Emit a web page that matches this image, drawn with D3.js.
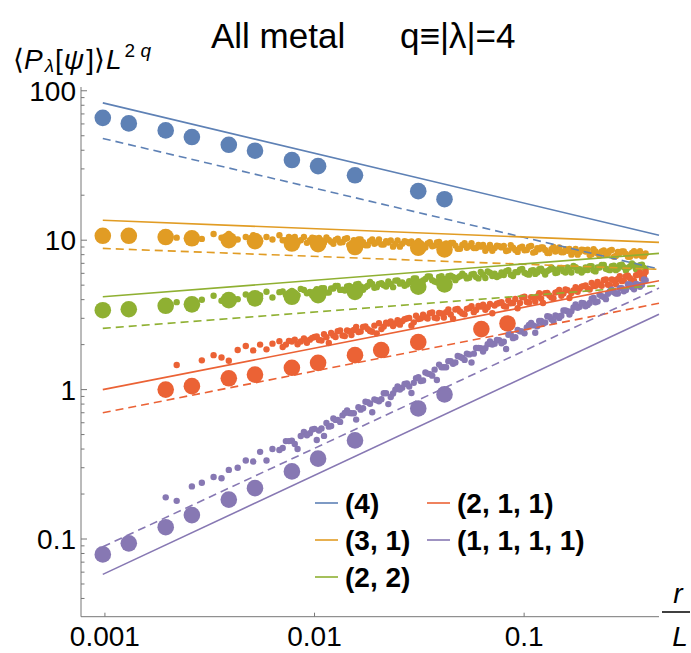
<!DOCTYPE html>
<html>
<head>
<meta charset="utf-8">
<script src="https://cdn.jsdelivr.net/npm/d3@7"></script>
<style>
  body { margin: 0; background: #fff; }
  svg { display: block; font-family: "Liberation Sans", Arial, sans-serif; }
</style>
</head>
<body>
<svg id="chart" width="691" height="653"></svg>
<script>
// Series (partitions λ of q = 4)
const seriesNames  = ["(4)", "(3, 1)", "(2, 2)", "(2, 1, 1)", "(1, 1, 1, 1)"];
const seriesColors = ["#5E81B5", "#E19C24", "#8FB032", "#EB6235", "#8778B3"];

// Large markers: r/L positions and values
const bigX    = [0.000977, 0.0013, 0.00195, 0.0026, 0.0039, 0.0052, 0.0078, 0.0104, 0.0156, 0.03125, 0.0417];
const bigXRed = [0.00195, 0.0026, 0.0039, 0.0052, 0.0078, 0.0104, 0.0156, 0.0208, 0.03125, 0.0625, 0.0833];
const bigBlue   = [65.9, 60.5, 54.3, 49.0, 43.5, 39.7, 34.4, 31.3, 27.2, 21.3, 18.8];
const bigOrange = [10.7, 10.7, 10.5, 10.3, 10.0, 9.85, 9.5, 9.4, 9.0, 8.9, 8.67];
const bigGreen  = [3.40, 3.45, 3.64, 3.72, 3.97, 4.08, 4.18, 4.29, 4.50, 4.88, 5.06];
const bigRed    = [1.0, 1.055, 1.19, 1.26, 1.40, 1.51, 1.70, 1.84, 2.08, 2.54, 2.77];
const bigPurple = [0.0789, 0.0935, 0.120, 0.1445, 0.1835, 0.219, 0.2835, 0.345, 0.457, 0.748, 0.929];

// Small markers, first sampling: r/L positions and values (null = no point)
const smallX = [
  0.00195,0.0022,0.0026,0.0029,0.0033,0.0036,0.0039,0.0043,0.0047,0.0051,
  0.0055,0.0059,0.0063,0.0068,0.0073,0.0078,0.0083,0.0089,0.0095,0.0100,
  0.0105,0.0111,0.0117,0.0123,0.0129,0.0136,0.0143,0.0150,0.0158,0.0166,
  0.0175,0.0184,0.0193,0.0203,0.0214,0.0225,0.0237,0.0249,0.0262,0.0276,
  0.0290,0.0305,0.0321,0.0338,0.0355,0.0374,0.0393,0.0414,0.0435,0.0458,
  0.0482,0.0507,0.0533,0.0561,0.0590,0.0621,0.0653,0.0687,0.0723,0.0760,
  0.0800,0.0841,0.0885,0.0931,0.0979,0.103,0.108,0.113,0.118,0.123,
  0.129,0.135,0.141,0.147,0.154,0.161,0.168,0.176,0.184,0.192,
  0.201,0.210,0.219,0.229,0.240,0.251,0.262,0.274,0.286,0.299,
  0.313,0.327,0.342,0.357,0.373];
const smallOrange = [
  11.1,10.4,10.8,10.2,11.0,10.4,11.0,10.1,10.5,10.8,
  9.9,10.5,10.1,10.8,10.0,10.2,9.6,10.5,10.0,10.3,
  10.35,9.65,10.05,9.45,10.25,9.7,10.3,9.4,9.8,10.1,
  9.25,9.85,9.45,10.1,9.35,9.65,9.05,9.95,9.45,9.75,
  9.8,9.1,9.5,8.95,9.7,9.2,9.75,8.95,9.3,9.6,
  8.75,9.3,8.9,9.55,8.85,9.05,8.5,9.3,8.85,9.1,
  9.15,8.55,8.9,8.35,9.05,8.6,9.15,8.35,8.7,8.95,
  8.2,8.7,8.4,8.95,8.3,8.5,8.0,8.75,8.35,8.6,
  8.65,8.05,8.4,7.9,8.55,8.1,8.6,7.85,8.2,8.4,
  7.75,8.2,7.9,8.45,7.8];
const smallGreen = [
  3.63,3.85,3.75,3.99,4.25,3.93,4.13,4.03,4.33,4.2,
  4.26,4.52,4.13,4.49,4.31,4.58,4.28,4.64,4.5,4.46,
  4.51,4.78,4.47,4.75,4.94,4.66,4.9,4.61,5.05,4.9,
  4.85,5.25,4.8,5.1,5.0,5.3,4.85,5.38,5.22,5.06,
  5.22,5.54,5.06,5.5,5.72,5.29,5.68,5.35,5.74,5.68,
  5.62,5.96,5.55,5.9,5.66,6.12,5.59,6.06,5.97,5.79,
  5.85,6.29,5.75,6.11,6.43,5.94,6.24,5.95,6.39,6.2,
  6.21,6.58,6.02,6.46,6.2,6.58,6.08,6.59,6.4,6.26,
  6.32,6.71,6.18,6.57,6.83,6.36,6.69,6.3,6.8,6.6,
  6.53,6.99,6.39,6.79,6.53];
const smallRed = [
  null,1.46,null,1.57,1.70,1.64,1.56,1.84,1.96,1.83,
  2.0,1.86,2.03,2.11,2.0,2.1,2.01,2.2,2.16,2.25,
  2.15,2.35,2.05,2.3,2.46,2.3,2.49,2.32,2.63,2.45,
  2.65,2.47,2.68,2.78,2.64,2.77,2.66,2.91,2.87,2.99,
  2.68,3.12,2.99,3.05,3.24,3.03,3.26,3.04,3.44,2.98,
  3.46,3.23,3.47,3.61,3.41,3.59,3.42,3.74,3.65,3.8,
  3.63,3.97,3.8,3.5,4.14,3.86,4.16,3.88,4.41,3.8,
  4.43,4.13,4.46,4.64,4.4,4.63,4.43,4.85,4.74,4.93,
  4.73,5.18,4.96,5.06,5.41,5.04,5.45,5.07,5.75,5.37,
  5.79,5.4,5.82,6.05,5.72];
const smallPurple = [
  0.19,0.18,0.225,0.238,0.26,0.255,0.29,0.30,0.335,0.33,
  0.383,0.335,0.40,0.394,0.452,0.455,0.40,0.52,0.51,0.546,
  0.533,0.49,0.565,0.64,0.627,0.672,0.725,0.694,0.63,0.734,
  0.83,0.804,0.86,0.836,0.946,0.80,0.941,1.05,1.03,1.1,
  0.95,1.19,1.14,1.3,1.27,1.36,1.47,1.41,1.55,1.49,
  1.68,1.63,1.74,1.52,1.9,1.89,1.89,2.1,2.03,2.14,
  2.09,2.33,2.21,2.51,2.45,2.61,2.79,2.4,2.88,2.76,
  3.1,2.96,3.13,3.02,3.39,3.35,3.34,3.71,3.58,3.79,
  3.69,4.06,3.84,4.31,4.16,4.38,4.66,4.4,4.78,4.55,
  5.08,4.84,5.09,4.88,5.47];

// Small markers, second (interleaved) sampling
const smallX2 = [
  0.00705,0.00755,0.00805,0.0086,0.0092,0.00975,0.01025,0.0108,0.0114,0.012,
  0.0126,0.01325,0.01395,0.01465,0.0154,0.0162,0.01705,0.01795,0.01885,0.0198,
  0.02085,0.02195,0.0231,0.0243,0.02555,0.0269,0.0283,0.02975,0.0313,0.03295,
  0.03465,0.03645,0.03835,0.04035,0.04245,0.04465,0.047,0.04945,0.052,0.0547,
  0.05755,0.06055,0.0637,0.067,0.0705,0.07415,0.078,0.08205,0.0863,0.0908,
  0.0955,0.10045,0.1055,0.1105,0.1155,0.1205,0.126,0.132,0.138,0.144,
  0.1505,0.1575,0.1645,0.172,0.18,0.188,0.1965,0.2055,0.2145,0.224,
  0.2345,0.2455,0.2565,0.268,0.28,0.2925,0.306,0.32,0.3345,0.3495,
  0.365,0.38];
const smallOrange2 = [
  10.0,10.5,10.5,10.0,9.6,10.4,10.1,9.55,10.45,9.75,
  10.05,9.65,10.2,9.3,10.0,10.1,9.7,9.25,10.1,9.65,
  9.35,9.85,9.95,9.45,9.05,9.85,9.55,9.0,9.85,9.2,
  9.5,9.1,9.65,8.85,9.5,9.6,9.2,8.75,9.55,9.1,
  8.85,9.3,9.3,8.85,8.5,9.2,8.95,8.45,9.25,8.6,
  8.9,8.55,9.05,8.25,8.85,8.95,8.6,8.2,9.0,8.55,
  8.3,8.7,8.75,8.35,8.0,8.65,8.4,7.95,8.7,8.15,
  8.4,8.05,8.5,7.75,8.35,8.4,8.1,7.75,8.45,8.05,
  7.8,8.15];
const smallGreen2 = [
  4.53,4.22,4.4,4.72,4.41,4.28,4.69,4.78,4.46,4.75,
  4.94,4.65,4.61,4.94,4.7,5.1,4.66,4.95,5.1,4.85,
  5.15,4.9,5.1,5.36,5.12,4.96,5.32,5.54,5.17,5.38,
  5.72,5.4,5.23,5.74,5.46,5.79,5.4,5.74,5.79,5.61,
  5.95,5.55,5.88,6.17,5.76,5.67,6.09,6.21,5.87,6.11,
  6.35,6.06,5.88,6.3,6.08,6.45,5.89,6.33,6.4,6.08,
  6.52,6.08,6.33,6.72,6.27,6.08,6.58,6.71,6.26,6.57,
  6.83,6.44,6.3,6.76,6.43,6.86,6.27,6.67,6.79,6.46,
  6.86,6.43];
const smallRed2 = [
  1.93,2.12,2.16,2.1,2.06,2.22,2.27,2.13,2.24,2.39,
  2.25,2.49,2.28,2.46,2.51,2.43,2.63,2.54,2.44,2.38,
  2.54,2.8,2.86,2.77,2.72,2.96,3.02,2.82,2.97,3.17,
  2.99,3.28,3.0,3.23,3.3,3.18,3.44,3.33,3.19,3.51,
  3.3,3.63,3.7,3.56,3.24,3.76,3.84,3.59,3.78,4.04,
  3.8,4.18,3.82,4.12,4.2,4.07,4.41,4.26,4.09,4.51,
  4.24,4.68,4.1,4.61,4.52,4.89,4.98,4.68,4.93,5.26,
  4.96,5.46,4.99,5.39,5.5,5.32,5.75,5.56,5.34,5.88,
  5.53,6.13];
const smallPurple2 = [
  0.407,0.452,0.432,0.489,0.495,0.541,0.46,0.549,0.598,0.571,
  0.627,0.608,0.698,0.697,0.694,0.762,0.75,0.822,0.705,0.85,
  0.862,0.946,0.893,1.0,1.0,1.09,1.05,1.11,1.21,1.15,
  1.28,1.24,1.16,1.41,1.41,1.55,1.52,1.66,1.58,1.72,
  1.74,1.9,1.8,2.01,2.0,2.15,2.04,1.87,2.35,2.24,
  2.46,2.38,2.71,2.69,2.65,2.88,2.81,3.07,2.87,3.1,
  3.12,3.39,3.18,3.54,3.53,3.8,3.61,3.8,4.1,3.88,
  4.22,4.03,4.56,4.48,4.4,4.78,4.65,5.03,4.69,5.04,
  5.04,5.4];

// Power-law guide lines: values at the two ends of lineX
const lineX = [0.000977, 0.44];
const solidEnds  = [[83, 10.8], [13.6, 9.67], [4.18, 8.16], [1.0, 5.35], [0.058, 3.19]];
const dashedEnds = [[48, 6.4], [8.81, 6.38], [2.57, 4.98], [0.70, 3.78], [0.0887, 4.78]];

// Axis ticks
const xTicks = [0.001, 0.01, 0.1];
const xTickLabels = ["0.001", "0.01", "0.1"];
const yTicks = [0.1, 1, 10, 100];
const yTickLabels = ["0.1", "1", "10", "100"];

const svg = d3.select("#chart");
const x = d3.scaleLog().domain([0.000769, 0.44]).range([81, 659]);
const y = d3.scaleLog().domain([0.0302, 106]).range([616.7, 87]);

const bigSets = [
  {xs: bigX, ys: bigBlue}, {xs: bigX, ys: bigOrange}, {xs: bigX, ys: bigGreen},
  {xs: bigXRed, ys: bigRed}, {xs: bigX, ys: bigPurple}];
const smallSets  = [null, smallOrange, smallGreen, smallRed, smallPurple];
const smallSets2 = [null, smallOrange2, smallGreen2, smallRed2, smallPurple2];

// Points
const pts = svg.append("g");
seriesNames.forEach((name, i) => {
  const g = pts.append("g").attr("fill", seriesColors[i]);
  if (smallSets[i]) {
    const data = smallX.map((v, k) => [v, smallSets[i][k]])
      .concat(smallX2.map((v, k) => [v, smallSets2[i][k]]))
      .filter(d => d[1] != null);
    g.selectAll("circle.s").data(data).join("circle").attr("class", "s")
      .attr("cx", d => x(d[0])).attr("cy", d => y(d[1])).attr("r", 3.2);
  }
  const bd = bigSets[i].xs.map((v, k) => [v, bigSets[i].ys[k]]);
  g.selectAll("circle.b").data(bd).join("circle").attr("class", "b")
    .attr("cx", d => x(d[0])).attr("cy", d => y(d[1])).attr("r", 8.3);
});

// Guide lines
const line = d3.line().x(d => x(d[0])).y(d => y(d[1]));
const lines = svg.append("g").attr("fill", "none").attr("stroke-width", 1.6);
seriesNames.forEach((name, i) => {
  lines.append("path").attr("stroke", seriesColors[i])
    .attr("d", line(lineX.map((v, k) => [v, solidEnds[i][k]])));
  lines.append("path").attr("stroke", seriesColors[i]).attr("stroke-dasharray", "8,5")
    .attr("d", line(lineX.map((v, k) => [v, dashedEnds[i][k]])));
});

// Axes
const axisColor = "#777";
const xAxisY = y.range()[0];
const ax = svg.append("g").attr("stroke", axisColor).attr("stroke-width", 1);
ax.append("line").attr("x1", x.range()[0]).attr("x2", x.range()[1]).attr("y1", xAxisY).attr("y2", xAxisY);
ax.append("line").attr("x1", x.range()[0]).attr("x2", x.range()[0]).attr("y1", y.range()[1]).attr("y2", xAxisY);
xTicks.forEach(t => {
  ax.append("line").attr("x1", x(t)).attr("x2", x(t)).attr("y1", xAxisY).attr("y2", xAxisY - 4);
});
const yMinor = [];
[0.01, 0.1, 1, 10].forEach(dec => { for (let m = 2; m <= 9; m++) yMinor.push(dec * m); });
yMinor.filter(v => v >= y.domain()[0] && v <= y.domain()[1]).forEach(v => {
  ax.append("line").attr("x1", x.range()[0]).attr("x2", x.range()[0] + 3.5).attr("y1", y(v)).attr("y2", y(v));
});
yTicks.forEach(t => {
  ax.append("line").attr("x1", x.range()[0]).attr("x2", x.range()[0] + 6).attr("y1", y(t)).attr("y2", y(t));
});

const lab = svg.append("g").attr("font-size", 28).attr("fill", "#000");
xTicks.forEach((t, k) => {
  lab.append("text").attr("x", x(t)).attr("y", 646).attr("text-anchor", "middle").text(xTickLabels[k]);
});
yTicks.forEach((t, k) => {
  lab.append("text").attr("x", 76).attr("y", y(t) + 10).attr("text-anchor", "end").text(yTickLabels[k]);
});

// Title
svg.append("text").attr("x", 211).attr("y", 48).attr("font-size", 35).text("All metal");
svg.append("text").attr("x", 400).attr("y", 48).attr("font-size", 35).text("q≡|λ|=4");

// Y axis label
const yl = svg.append("text").attr("x", 13).attr("y", 69).attr("font-size", 28);
yl.append("tspan").text("⟨");
yl.append("tspan").attr("font-style", "italic").text("P");
yl.append("tspan").attr("font-style", "italic").attr("font-size", 19).attr("dx", 2).attr("dy", 3).text("λ");
yl.append("tspan").attr("dx", 1).attr("dy", -3).text("[");
yl.append("tspan").attr("font-style", "italic").attr("dx", 1).text("ψ");
yl.append("tspan").attr("dx", 2).text("]⟩");
yl.append("tspan").attr("font-style", "italic").attr("dx", 1).text("L");
yl.append("tspan").attr("font-size", 19).attr("dx", 3).attr("dy", -12).text("2 ");
yl.append("tspan").attr("font-size", 19).attr("font-style", "italic").text("q");

// X axis label r/L
svg.append("text").attr("x", 678).attr("y", 603).attr("font-size", 28).attr("font-style", "italic")
  .attr("text-anchor", "middle").text("r");
svg.append("line").attr("x1", 662).attr("x2", 690).attr("y1", 612).attr("y2", 612)
  .attr("stroke", "#000").attr("stroke-width", 1.5);
svg.append("text").attr("x", 680).attr("y", 646).attr("font-size", 28).attr("font-style", "italic")
  .attr("text-anchor", "middle").text("L");

// Legend
const legendPos = [[315, 503], [315, 540], [315, 577], [427, 503], [427, 540]];
const leg = svg.append("g");
seriesNames.forEach((name, i) => {
  const [lx, ly] = legendPos[i];
  leg.append("line").attr("x1", lx).attr("x2", lx + 23).attr("y1", ly).attr("y2", ly)
    .attr("stroke", seriesColors[i]).attr("stroke-width", 1.6);
  leg.append("text").attr("x", lx + 30).attr("y", ly + 10).attr("font-size", 28)
    .attr("font-weight", "bold").text(name);
});
</script>
</body>
</html>
